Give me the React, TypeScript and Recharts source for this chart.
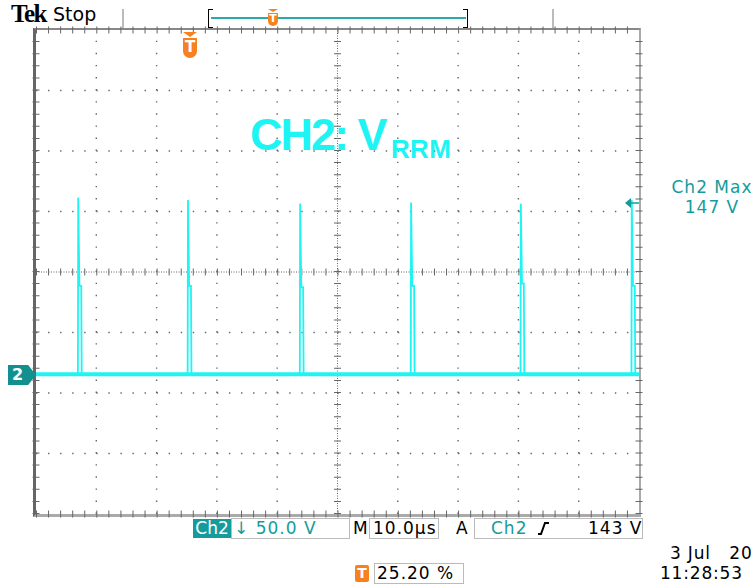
import React from 'react';
import { LineChart, Line, XAxis, YAxis, ReferenceLine } from 'recharts';

// Ch2, 50 V/div, 10 µs/div; time in µs from the trigger point, voltage in V
const timeDomain = [-25.2, 74.8];
const voltDomain = [-116.5, 283.5];
const timeCenter = 24.8;
const voltCenter = 83.5;
const timeGrid = [-15.2, -5.2, 4.8, 14.8, 34.8, 44.8, 54.8, 64.8];
const voltGrid = [-66.5, -16.5, 33.5, 133.5, 183.5, 233.5];

const baselineLevel = -1;
const spikeTimes = [-18.2, 0.0, 18.6, 37.0, 55.2, 73.6];
const spikePeaks = [145, 143, 140, 141, 140, 143];
const spikeShoulders = [72, 72, 71, 72, 74, 72];

const trace: { t: number; v: number }[] = [{ t: timeDomain[0], v: baselineLevel }];
spikeTimes.forEach((t, i) => {
  trace.push(
    { t: t - 0.05, v: baselineLevel },
    { t, v: spikePeaks[i] },
    { t: t + 0.2, v: spikeShoulders[i] },
    { t: t + 0.5, v: spikeShoulders[i] },
    { t: t + 0.58, v: baselineLevel },
  );
});
trace.push({ t: timeDomain[1], v: baselineLevel });
const baseline = [
  { t: timeDomain[0], v: baselineLevel },
  { t: timeDomain[1], v: baselineLevel },
];

const TEAL = '#149c9c';
const CYAN = '#1ff4f4';
const ORANGE = '#f5821f';
const GRID = '#666';
const SANS = '"DejaVu Sans", Verdana, sans-serif';

const abs = (left: number, top: number, extra: React.CSSProperties = {}): React.CSSProperties => ({
  position: 'absolute',
  left,
  top,
  ...extra,
});

const txt = (left: number, top: number, color: string, extra: React.CSSProperties = {}): React.CSSProperties =>
  abs(left, top, { fontFamily: SANS, fontSize: 17, lineHeight: '19px', color, whiteSpace: 'pre', letterSpacing: 1, ...extra });

function TMarker({ cx, top, w, h, fs }: { cx: number; top: number; w: number; h: number; fs: number }) {
  return (
    <>
      <div style={abs(cx - w / 2, top, { width: 0, height: 0, borderLeft: `${w / 2}px solid transparent`, borderRight: `${w / 2}px solid transparent`, borderTop: `${Math.round(w / 3)}px solid ${ORANGE}` })} />
      <div
        style={abs(cx - w / 2, top + Math.round(w / 3) + 1, {
          width: w,
          height: h,
          background: ORANGE,
          borderRadius: `0 0 ${w / 2}px ${w / 2}px`,
          color: '#fff',
          fontFamily: SANS,
          fontWeight: 'bold',
          fontSize: fs,
          lineHeight: `${h - 2}px`,
          textAlign: 'center',
        })}
      >
        T
      </div>
    </>
  );
}

export default function App() {
  return (
    <div style={{ position: 'absolute', left: 0, top: 0, width: 756, height: 585, background: '#fff', overflow: 'hidden' }}>
      {/* header */}
      <div style={abs(11, 0, { fontFamily: '"Liberation Serif", serif', fontWeight: 'bold', fontSize: 25, letterSpacing: -1.5, color: '#000' })}>Tek</div>
      <div style={abs(53, 3, { fontFamily: SANS, fontSize: 19, color: '#000' })}>Stop</div>
      <div style={abs(122, 9, { width: 2, height: 20, background: '#bbb' })} />
      <div style={abs(552, 9, { width: 2, height: 20, background: '#bbb' })} />
      <div style={abs(208, 9, { width: 4, height: 17, borderLeft: '1.5px solid #000', borderTop: '1.5px solid #000', borderBottom: '1.5px solid #000' })} />
      <div style={abs(463, 9, { width: 4, height: 17, borderRight: '1.5px solid #000', borderTop: '1.5px solid #000', borderBottom: '1.5px solid #000' })} />
      <div style={abs(211, 17, { width: 255, height: 2, background: '#2aa9a9' })} />
      <TMarker cx={273} top={9} w={10} h={13} fs={11} />

      {/* graticule frame */}
      <div
        style={abs(33, 28, {
          width: 608,
          height: 489,
          boxSizing: 'border-box',
          borderLeft: '3px solid #666',
          borderTop: '2px solid #888',
          borderRight: '2px solid #aaa',
          borderBottom: '3px solid #aaa',
        })}
      />

      <div style={abs(0, 0)}>
        <LineChart width={756} height={585} data={trace} margin={{ top: 30, right: 117, bottom: 71, left: 36 }}>
          <XAxis dataKey="t" type="number" domain={timeDomain} allowDataOverflow hide />
          <YAxis dataKey="v" type="number" domain={voltDomain} allowDataOverflow hide />
          {timeGrid.map((t) => (
            <ReferenceLine key={`gx${t}`} x={t} stroke={GRID} strokeWidth={1.4} strokeDasharray="1.4 10.7" />
          ))}
          {voltGrid.map((v) => (
            <ReferenceLine key={`gy${v}`} y={v} stroke={GRID} strokeWidth={1.4} strokeDasharray="1.4 10.66" />
          ))}
          <ReferenceLine x={timeCenter} stroke={GRID} strokeDasharray="1 1.5" />
          <ReferenceLine x={timeCenter} stroke={GRID} strokeWidth={7} strokeDasharray="1 11.1" />
          <ReferenceLine y={voltCenter} stroke={GRID} strokeDasharray="1 1.5" />
          <ReferenceLine y={voltCenter} stroke={GRID} strokeWidth={7} strokeDasharray="1 11.06" />
          <ReferenceLine x={timeDomain[0]} stroke={GRID} strokeWidth={7} strokeDasharray="1 11.1" />
          <ReferenceLine x={timeDomain[1]} stroke={GRID} strokeWidth={7} strokeDasharray="1 11.1" />
          <ReferenceLine y={voltDomain[0]} stroke={GRID} strokeWidth={7} strokeDasharray="1 11.06" />
          <ReferenceLine y={voltDomain[1]} stroke={GRID} strokeWidth={7} strokeDasharray="1 11.06" />
          <Line data={baseline} dataKey="v" stroke={CYAN} strokeWidth={4} dot={false} activeDot={false} isAnimationActive={false} />
          <Line dataKey="v" type="linear" stroke={CYAN} strokeWidth={1.8} dot={false} activeDot={false} isAnimationActive={false} />
        </LineChart>
      </div>

      {/* annotations */}
      <TMarker cx={190} top={32} w={14} h={20} fs={15} />
      <div style={abs(250, 112, { fontFamily: '"Liberation Sans", Arial, sans-serif', fontWeight: 'bold', fontSize: 45, lineHeight: 1, letterSpacing: -2, color: CYAN, whiteSpace: 'pre' })}>CH2: V</div>
      <div style={abs(391, 136, { fontFamily: '"Liberation Sans", Arial, sans-serif', fontWeight: 'bold', fontSize: 26, lineHeight: 1, letterSpacing: 0.3, color: CYAN })}>RRM</div>

      <div style={txt(662, 177, TEAL, { width: 100, textAlign: 'center', lineHeight: '20px' })}>
        Ch2 Max
        <br />
        147 V
      </div>
      <svg style={abs(624, 197)} width={16} height={12}>
        <polygon points="1,6 7,1 7,11" fill={TEAL} />
        <line x1={7} y1={6} x2={15} y2={6} stroke={TEAL} strokeWidth={1.5} />
      </svg>

      <div
        style={abs(8, 365, {
          width: 28,
          height: 20,
          background: '#12908f',
          clipPath: 'polygon(0 0, 72% 0, 100% 50%, 72% 100%, 0 100%)',
          color: '#fff',
          fontFamily: SANS,
          fontWeight: 'bold',
          fontSize: 16,
          lineHeight: '20px',
          paddingLeft: 4,
          boxSizing: 'border-box',
        })}
      >
        2
      </div>

      {/* bottom readout */}
      <div style={txt(193, 519, '#fff', { width: 38, height: 19, background: TEAL, letterSpacing: 0, textAlign: 'center' })}>Ch2</div>
      <div style={abs(231, 518, { width: 119, height: 21, boxSizing: 'border-box', border: '1px solid #bbb' })} />
      <div style={txt(234, 519, TEAL)}>↓ 50.0 V</div>
      <div style={txt(353, 519, '#000', { letterSpacing: 0 })}>M</div>
      <div style={abs(369, 518, { width: 70, height: 21, boxSizing: 'border-box', border: '1px solid #bbb' })} />
      <div style={txt(373, 519, '#000')}>10.0µs</div>
      <div style={txt(456, 519, '#000')}>A</div>
      <div style={abs(474, 518, { width: 169, height: 21, boxSizing: 'border-box', border: '1px solid #bbb' })} />
      <div style={txt(491, 519, TEAL)}>Ch2</div>
      <svg style={abs(537, 521)} width={14} height={16}>
        <polyline points="1,13 4,13 8,2 12,2" fill="none" stroke="#000" strokeWidth={2} />
      </svg>
      <div style={txt(588, 519, '#000')}>143 V</div>

      <div style={abs(355, 565, { width: 14, height: 17, background: ORANGE, borderRadius: 2, color: '#fff', fontFamily: SANS, fontWeight: 'bold', fontSize: 14, lineHeight: '17px', textAlign: 'center' })}>T</div>
      <div style={abs(374, 563, { width: 90, height: 21, boxSizing: 'border-box', border: '1px solid #bbb' })} />
      <div style={txt(377, 564, '#000')}>25.20 %</div>

      <div style={txt(670, 545, '#000', { letterSpacing: 0.8, lineHeight: '17px' })}>3 Jul   20</div>
      <div style={txt(660, 565, '#000', { letterSpacing: 0.8, lineHeight: '17px' })}>11:28:53</div>
    </div>
  );
}
